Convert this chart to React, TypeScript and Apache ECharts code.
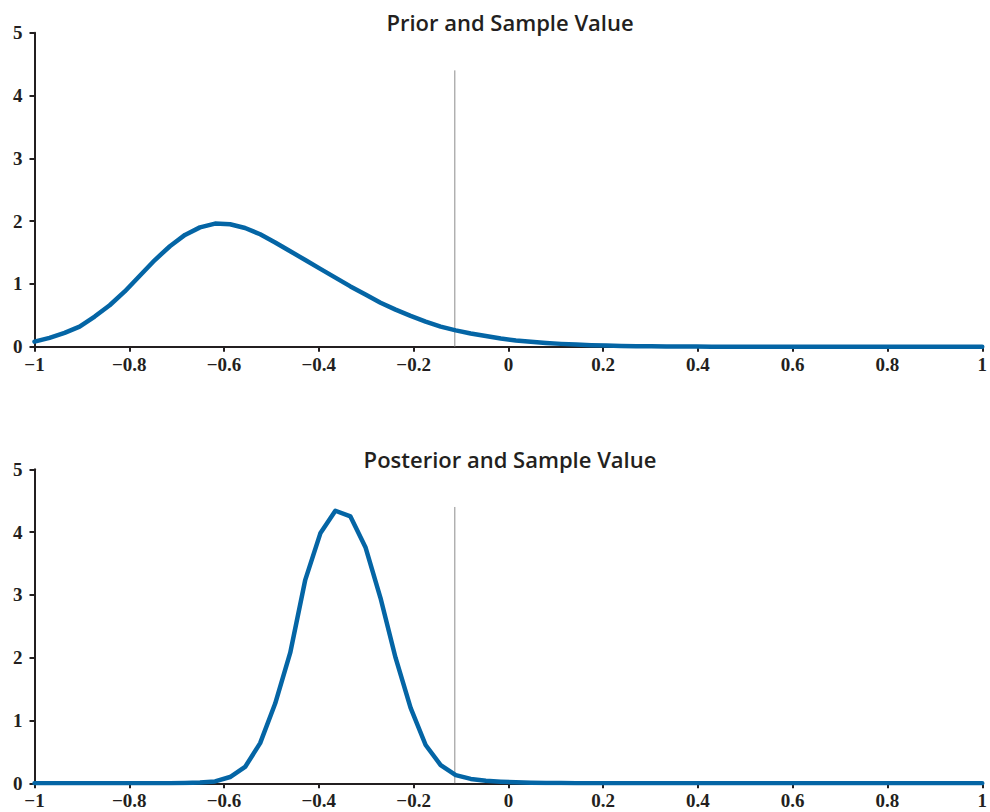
import React, { useEffect, useRef } from "react";
import * as echarts from "echarts";

// x grid shared by both curves
const xGrid = [
  -1.0, -0.9683, -0.9365, -0.9048, -0.873, -0.8413, -0.8095, -0.7778, -0.746, -0.7143,
  -0.6825, -0.6508, -0.619, -0.5873, -0.5556, -0.5238, -0.4921, -0.4603, -0.4286, -0.3968,
  -0.3651, -0.3333, -0.3016, -0.2698, -0.2381, -0.2063, -0.1746, -0.1429, -0.1111, -0.0794,
  -0.0476, -0.0159, 0.0159, 0.0476, 0.0794, 0.1111, 0.1429, 0.1746, 0.2063, 0.2381,
  0.2698, 0.3016, 0.3333, 0.3651, 0.3968, 0.4286, 0.4603, 0.4921, 0.5238, 0.5556,
  0.5873, 0.619, 0.6508, 0.6825, 0.7143, 0.746, 0.7778, 0.8095, 0.8413, 0.873,
  0.9048, 0.9365, 0.9683, 1.0,
];

const priorValues = [
  0.08, 0.14, 0.22, 0.32, 0.48, 0.66, 0.88, 1.13, 1.38, 1.6,
  1.78, 1.9, 1.96, 1.95, 1.89, 1.79, 1.66, 1.52, 1.38, 1.24,
  1.1, 0.96, 0.83, 0.7, 0.59, 0.49, 0.4, 0.32, 0.26, 0.21,
  0.17, 0.13, 0.1, 0.08, 0.06, 0.045, 0.034, 0.025, 0.018, 0.013,
  0.009, 0.006, 0.004, 0.003, 0.002, 0.001, 0.001, 0, 0, 0,
  0, 0, 0, 0, 0, 0, 0, 0, 0, 0,
  0, 0, 0, 0,
];

const posteriorValues = [
  0, 0, 0, 0, 0, 0, 0, 0, 0, 0.002,
  0.005, 0.012, 0.03, 0.1, 0.26, 0.64, 1.27, 2.08, 3.24, 3.98,
  4.34, 4.25, 3.76, 2.95, 2.0, 1.2, 0.61, 0.29, 0.13, 0.07,
  0.04, 0.025, 0.015, 0.01, 0.006, 0.004, 0.002, 0.001, 0, 0,
  0, 0, 0, 0, 0, 0, 0, 0, 0, 0,
  0, 0, 0, 0, 0, 0, 0, 0, 0, 0,
  0, 0, 0, 0,
];

const sampleValue = -0.113;
const sampleLineTop = 4.4;

const titles = ["Prior and Sample Value", "Posterior and Sample Value"];

const xMin = -1;
const xMax = 1;
const xInterval = 0.2;
const yMin = 0;
const yMax = 5;
const yInterval = 1;

const INK = "#231f20";
const BLUE = "#0465a5";

const fmt = (v: number) => {
  const r = Math.round(v * 10) / 10;
  const s = Object.is(r, -0) ? "0" : String(r);
  return s.replace("-", "\u2212");
};

export default function App() {
  const ref = useRef<HTMLDivElement>(null);

  useEffect(() => {
    if (!ref.current) return;
    const chart = echarts.init(ref.current, undefined, { renderer: "svg" });

    const grids = [
      { left: 34.5, right: 4.7, top: 32.7, height: 314 },
      { left: 34.5, right: 4.7, top: 469.3, height: 314 },
    ];

    const axisLabelStyle = {
      color: INK,
      fontFamily: "Liberation Serif",
      fontWeight: "bold" as const,
      fontSize: 19,
    };

    const xAxes = grids.map((_, i) => ({
      type: "value" as const,
      gridIndex: i,
      min: xMin,
      max: xMax,
      interval: xInterval,
      axisLine: { show: true, onZero: false, lineStyle: { color: INK, width: 2 } },
      axisTick: { show: true, length: 5, lineStyle: { color: INK, width: 2 } },
      splitLine: { show: false },
      axisLabel: { ...axisLabelStyle, margin: 8, formatter: fmt, showMinLabel: true, showMaxLabel: true },
    }));

    const yAxes = grids.map((_, i) => ({
      type: "value" as const,
      gridIndex: i,
      min: yMin,
      max: yMax,
      interval: yInterval,
      axisLine: { show: true, onZero: false, lineStyle: { color: INK, width: 2 } },
      axisTick: { show: true, length: 5, lineStyle: { color: INK, width: 2 } },
      splitLine: { show: false },
      axisLabel: { ...axisLabelStyle, margin: 12, formatter: fmt },
    }));

    const curves = [priorValues, posteriorValues];
    const series: any[] = [];
    curves.forEach((vals, i) => {
      series.push({
        type: "line",
        xAxisIndex: i,
        yAxisIndex: i,
        data: [
          [sampleValue, 0],
          [sampleValue, sampleLineTop],
        ],
        showSymbol: false,
        symbol: "none",
        silent: true,
        lineStyle: { color: "#8c8c8c", width: 1 },
        z: 1,
      });
      series.push({
        type: "line",
        xAxisIndex: i,
        yAxisIndex: i,
        data: xGrid.map((x, k) => [x, vals[k]]),
        showSymbol: false,
        symbol: "none",
        smooth: false,
        lineStyle: { color: BLUE, width: 4.5, cap: "round", join: "round" },
        z: 3,
      });
    });

    chart.setOption({
      animation: false,
      backgroundColor: "#ffffff",
      title: titles.map((t, i) => ({
        text: t,
        left: 505,
        textAlign: "center",
        top: i === 0 ? 6 : 443,
        textStyle: {
          color: INK,
          fontFamily: "Open Sans",
          fontWeight: 600,
          fontSize: 22,
        },
      })),
      grid: grids,
      xAxis: xAxes,
      yAxis: yAxes,
      series,
    });

    return () => chart.dispose();
  }, []);

  return <div ref={ref} style={{ width: 990, height: 812, position: "absolute", left: 0, top: 0 }} />;
}
